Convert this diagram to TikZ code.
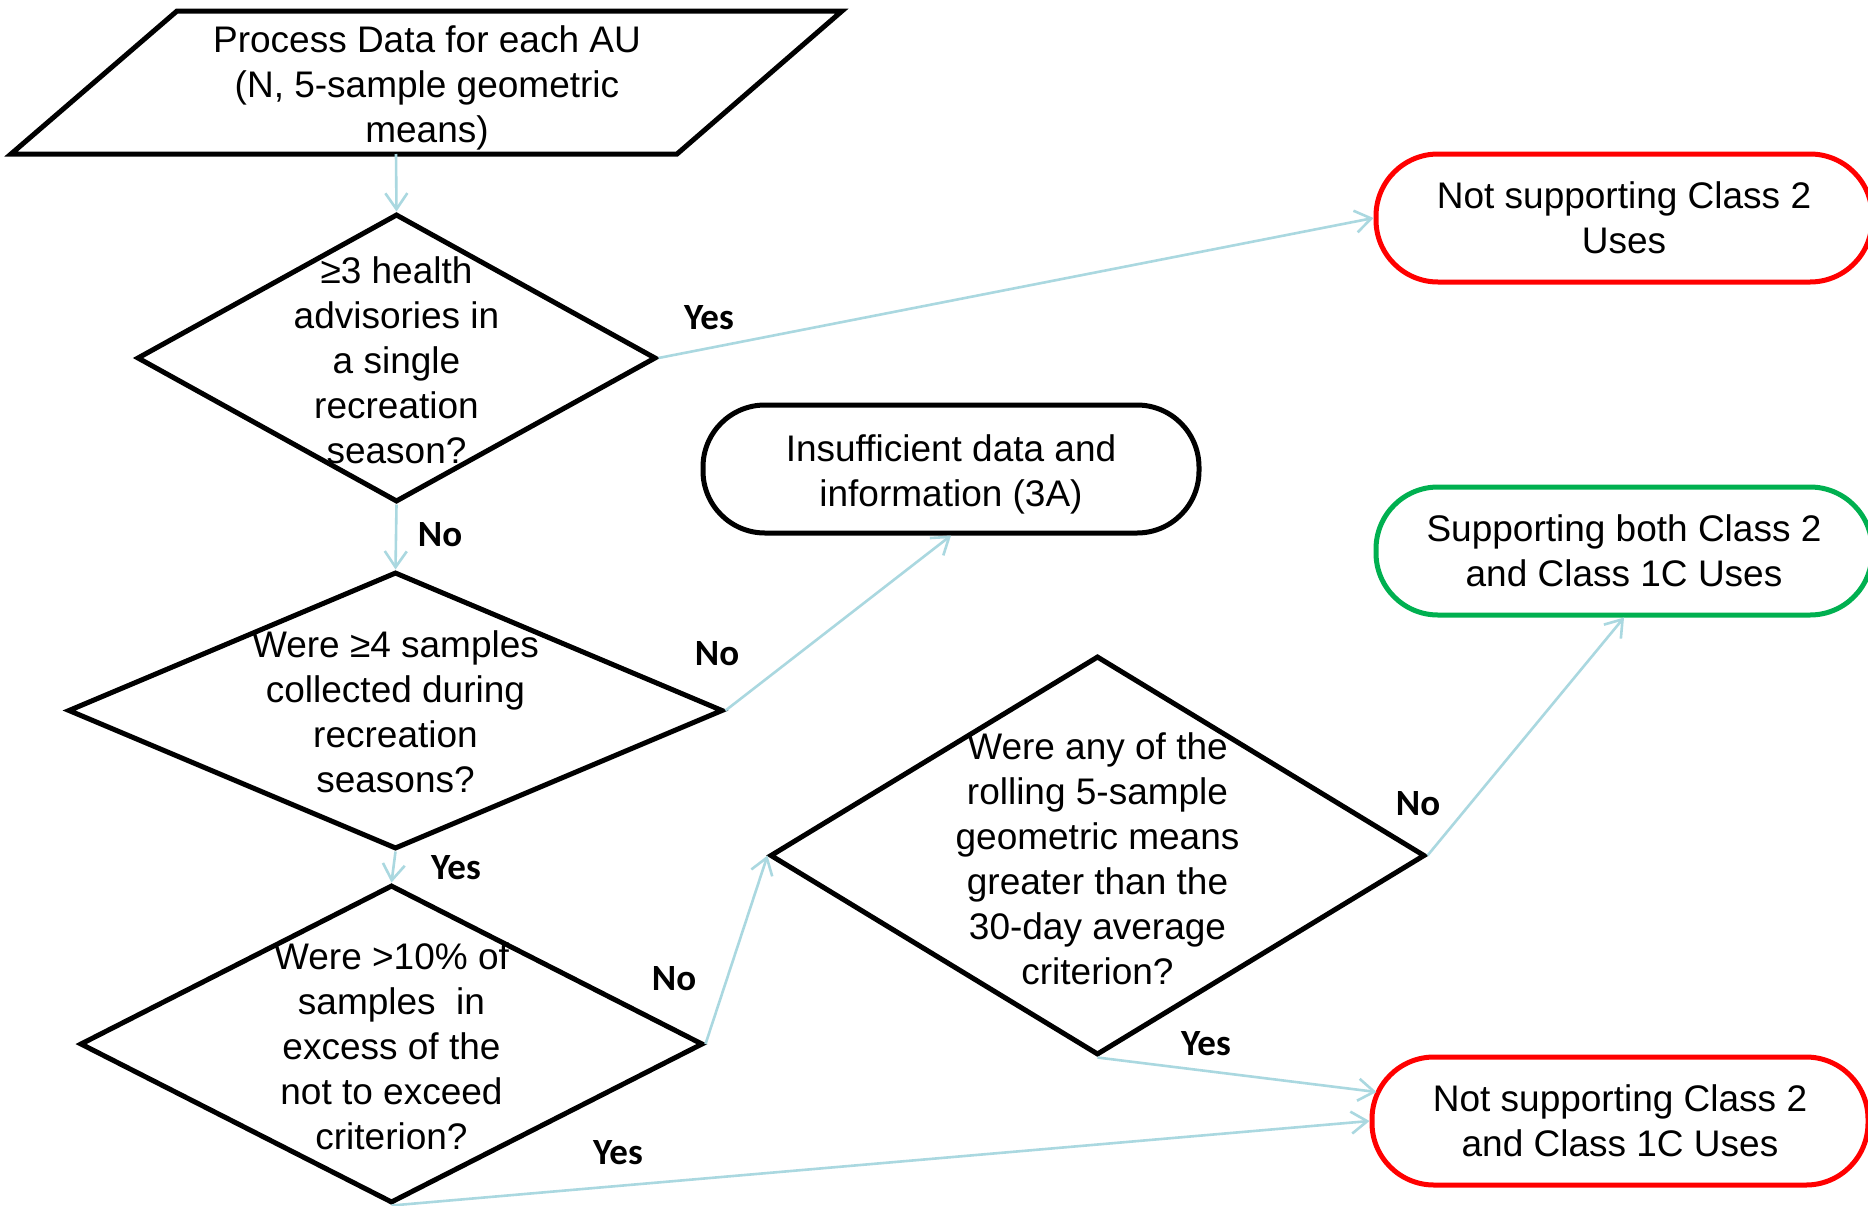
\documentclass[tikz,border=0pt]{standalone}
\usepackage{fontspec}
\setmainfont{Liberation Sans}
\newfontfamily\labfont{Carlito}
\usetikzlibrary{shapes.geometric,arrows.meta,calc}
\definecolor{conncol}{RGB}{170,216,224}
\definecolor{myred}{RGB}{255,0,0}
\definecolor{mygreen}{RGB}{0,176,80}
\begin{document}
\begin{tikzpicture}[x=1pt,y=-1pt,
  txt/.style={font=\fontsize{37}{45}\selectfont, align=center, inner sep=0pt},
  dia/.style={diamond, draw, line width=5pt, inner sep=0pt, shape aspect=1},
  term/.style={draw, line width=5pt, rounded corners=62pt, minimum width=496pt, minimum height=128pt, inner sep=0pt, font=\fontsize{37}{45}\selectfont, align=center},
  conn/.style={draw=conncol, line width=2.6pt, -{Straight Barb[length=16pt,width=22pt]}},
  lab/.style={font=\labfont\bfseries\fontsize{37}{42}\selectfont, inner sep=0pt}
]
\useasboundingbox (0,0) rectangle (1868,1205);
\fill[white] (0,0) rectangle (1868,1205);

% parallelogram
\draw[line width=5pt] (177,11) -- (842,11) -- (677,154) -- (11,154) -- cycle;
\node[txt] (pt) at (427,88) {Process Data for each AU\\(N, 5-sample geometric\\means)};
\coordinate (pb) at (396,154);

% diamonds
\node[dia, minimum width=519pt, minimum height=288pt] (d1) at (396.5,358) {};
\node[txt] (d1t) at (396.5,360) {≥3 health\\advisories in\\a single\\recreation\\season?};

\node[dia, minimum width=655pt, minimum height=277pt] (d2) at (395.5,710.5) {};
\node[txt] (d2t) at (395.5,712) {Were ≥4 samples\\collected during\\recreation\\seasons?};

\node[dia, minimum width=623pt, minimum height=318pt] (d3) at (391.5,1044) {};
\node[txt] (d3t) at (391.5,1046) {Were >10\% of\\samples\ \ in\\excess of the\\not to exceed\\criterion?};

\node[dia, minimum width=655pt, minimum height=399pt] (d4) at (1097.5,855.5) {};
\node[txt] (d4t) at (1097.5,859) {Were any of the\\rolling 5-sample\\geometric means\\greater than the\\30-day average\\criterion?};

% terminals
\node[term] (ins) at (951,469) {};
\node[txt] (inst) at (951,474) {Insufficient data and\\information (3A)};
\node[term, draw=myred] (r1) at (1624,218) {Not supporting Class 2\\Uses};
\node[term, draw=mygreen] (g) at (1624,551) {Supporting both Class 2\\and Class 1C Uses};
\node[term, draw=myred] (r2) at (1620,1121) {Not supporting Class 2\\and Class 1C Uses};
\coordinate (r2a) at ($(r2.west)+(7,-29)$);

% connectors
\draw[conn] (pb) -- (d1.north);
\draw[conn] (d1.east) -- (r1.west);
\draw[conn] (d1.south) -- (d2.north);
\draw[conn] (d2.east) -- (ins.south);
\draw[conn] (d2.south) -- (d3.north);
\draw[conn] (d3.east) -- (d4.west);
\draw[conn] (d4.east) -- (g.south);
\draw[conn] (d4.south) -- (r2a);
\draw[conn] (d3.south) -- (r2.west);

% labels
\node[lab] (l1) at (709,318) {Yes};
\node[lab] (l2) at (440,535) {No};
\node[lab] (l3) at (717,654) {No};
\node[lab] (l4) at (456,868) {Yes};
\node[lab] (l5) at (674,979) {No};
\node[lab] (l6) at (1418,804) {No};
\node[lab] (l7) at (1206,1044) {Yes};
\node[lab] (l8) at (618,1153) {Yes};
\end{tikzpicture}
\end{document}
